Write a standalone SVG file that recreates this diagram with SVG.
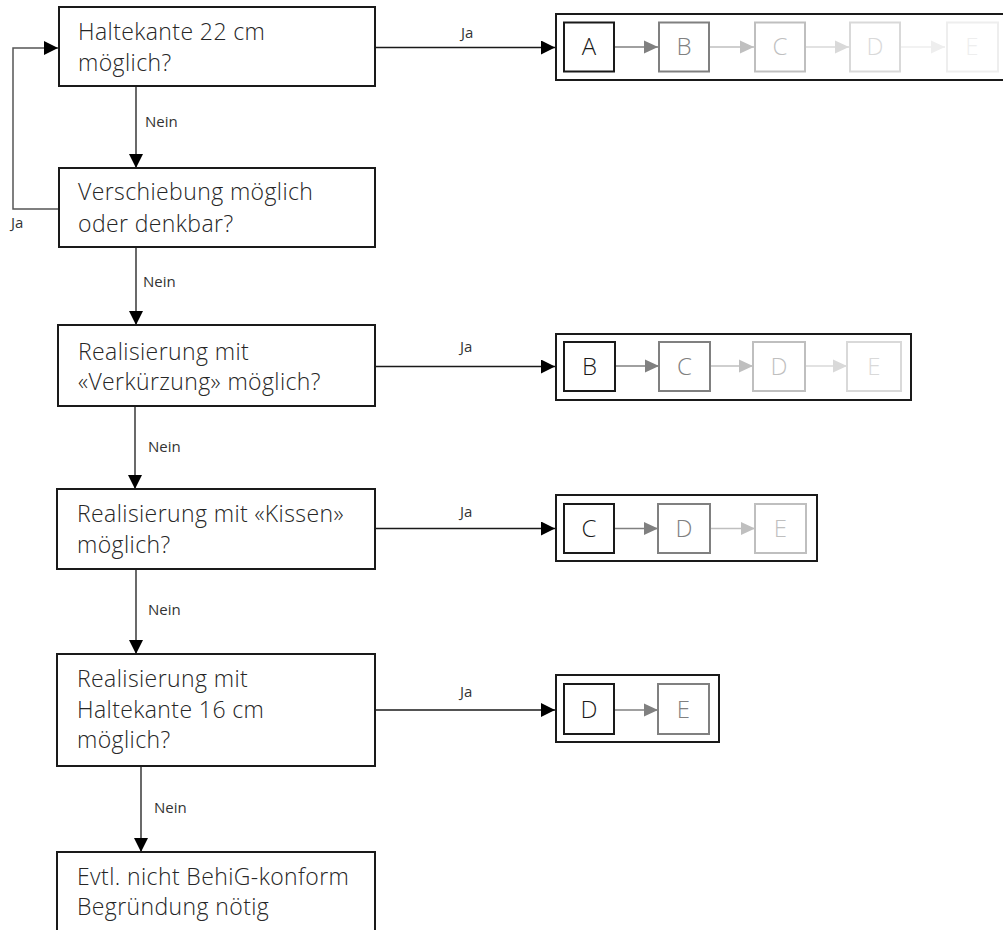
<svg xmlns="http://www.w3.org/2000/svg" width="1003" height="930" viewBox="0 0 1003 930">
<style>
.box{fill:#fff;stroke:#1a1a1a;stroke-width:2}
.txt{font-family:"Open Sans","Liberation Sans",sans-serif;font-weight:300;font-size:23px;letter-spacing:0.4px;fill:#262626}
.lbl{font-family:"Open Sans","Liberation Sans",sans-serif;font-weight:400;font-size:15px;fill:#333}
.ln{fill:none;stroke:#1a1a1a;stroke-width:1.3}
.fb{fill:none;stroke:#555;stroke-width:1.5}
.sb{fill:#fff;stroke-width:2}
.let{font-family:"Open Sans","Liberation Sans",sans-serif;font-weight:300;font-size:24px;text-anchor:middle}
.k0{stroke:#1a1a1a}.k1{stroke:#808080}.k2{stroke:#bfbfbf}.k3{stroke:#d9d9d9}.k4{stroke:#eeeeee}
.f0{fill:#1a1a1a}.f1{fill:#808080}.f2{fill:#bfbfbf}.f3{fill:#d9d9d9}.f4{fill:#eeeeee}
</style>
<defs>
<marker id="ah" markerUnits="userSpaceOnUse" markerWidth="15" markerHeight="14" refX="14" refY="7" orient="auto"><path d="M0,0 L14,7 L0,14 Z" fill="#000"/></marker>
<marker id="a1" markerUnits="userSpaceOnUse" markerWidth="15" markerHeight="14" refX="14" refY="7" orient="auto"><path d="M0,0.5 L14,7 L0,13.5 Z" fill="#808080"/></marker>
<marker id="a2" markerUnits="userSpaceOnUse" markerWidth="15" markerHeight="14" refX="14" refY="7" orient="auto"><path d="M0,0.5 L14,7 L0,13.5 Z" fill="#bfbfbf"/></marker>
<marker id="a3" markerUnits="userSpaceOnUse" markerWidth="15" markerHeight="14" refX="14" refY="7" orient="auto"><path d="M0,0.5 L14,7 L0,13.5 Z" fill="#d9d9d9"/></marker>
<marker id="a4" markerUnits="userSpaceOnUse" markerWidth="15" markerHeight="14" refX="14" refY="7" orient="auto"><path d="M0,0.5 L14,7 L0,13.5 Z" fill="#eeeeee"/></marker>
</defs>
<rect width="1003" height="930" fill="#fff"/>

<g id="connectors">
<path class="ln" d="M136,86 V168" marker-end="url(#ah)"/>
<path class="ln" d="M136,247 V325" marker-end="url(#ah)"/>
<path class="ln" d="M135,406 V489" marker-end="url(#ah)"/>
<path class="ln" d="M136,569 V654" marker-end="url(#ah)"/>
<path class="ln" d="M141,766 V852" marker-end="url(#ah)"/>
<path class="fb" d="M59,209 H13 V48 H58" marker-end="url(#ah)"/>
<path class="ln" d="M375,47.5 H555" marker-end="url(#ah)"/>
<path class="ln" d="M375,366.5 H555" marker-end="url(#ah)"/>
<path class="ln" d="M375,528.5 H555" marker-end="url(#ah)"/>
<path class="ln" d="M375,710 H555" marker-end="url(#ah)"/>
<text class="lbl" x="145" y="127">Nein</text>
<text class="lbl" x="143" y="287">Nein</text>
<text class="lbl" x="148" y="452">Nein</text>
<text class="lbl" x="148" y="615">Nein</text>
<text class="lbl" x="154" y="813">Nein</text>
<text class="lbl" x="11" y="228">Ja</text>
<text class="lbl" x="461" y="38">Ja</text>
<text class="lbl" x="460" y="352">Ja</text>
<text class="lbl" x="460" y="517">Ja</text>
<text class="lbl" x="460" y="697">Ja</text>
</g>

<g id="q1"><rect class="box" x="59" y="7" width="316" height="79"/><text class="txt" x="78" y="40">Haltekante 22 cm</text><text class="txt" x="78" y="71">möglich?</text></g>
<g id="q2"><rect class="box" x="59" y="168" width="316" height="79"/><text class="txt" x="78" y="200">Verschiebung möglich</text><text class="txt" x="78" y="232">oder denkbar?</text></g>
<g id="q3"><rect class="box" x="58" y="325" width="317" height="81"/><text class="txt" x="78" y="360">Realisierung mit</text><text class="txt" x="78" y="390">«Verkürzung» möglich?</text></g>
<g id="q4"><rect class="box" x="57" y="489" width="318" height="80"/><text class="txt" x="77" y="522">Realisierung mit «Kissen»</text><text class="txt" x="77" y="553">möglich?</text></g>
<g id="q5"><rect class="box" x="57" y="654" width="318" height="112"/><text class="txt" x="77" y="687">Realisierung mit</text><text class="txt" x="77" y="718">Haltekante 16 cm</text><text class="txt" x="77" y="748">möglich?</text></g>
<g id="q6"><rect class="box" x="57" y="852" width="318" height="100"/><text class="txt" x="77" y="885">Evtl. nicht BehiG-konform</text><text class="txt" x="77" y="915">Begründung nötig</text></g>

<g id="seq1">
<rect class="box" x="556" y="14" width="452" height="66"/>
<path class="k1" stroke-width="1.3" d="M614,47 H658" marker-end="url(#a1)"/>
<path class="k2" stroke-width="1.3" d="M709,47 H754" marker-end="url(#a2)"/>
<path class="k3" stroke-width="1.3" d="M805,47 H849" marker-end="url(#a3)"/>
<path class="k4" stroke-width="1.3" d="M901,47 H945" marker-end="url(#a4)"/>
<rect class="sb k0" x="564" y="22.5" width="50" height="49"/><text class="let f0" x="589" y="55">A</text>
<rect class="sb k1" x="659" y="22.5" width="50" height="49"/><text class="let f1" x="684" y="55">B</text>
<rect class="sb k2" x="755" y="22.5" width="50" height="49"/><text class="let f2" x="780" y="55">C</text>
<rect class="sb k3" x="850" y="22.5" width="50" height="49"/><text class="let f3" x="875" y="55">D</text>
<rect class="sb k4" x="947" y="22.5" width="51" height="49"/><text class="let f4" x="972" y="55">E</text>
</g>

<g id="seq2">
<rect class="box" x="556" y="334" width="355" height="66"/>
<path class="k1" stroke-width="1.3" d="M615,366 H659" marker-end="url(#a1)"/>
<path class="k2" stroke-width="1.3" d="M710,366 H753" marker-end="url(#a2)"/>
<path class="k3" stroke-width="1.3" d="M805,366 H847" marker-end="url(#a3)"/>
<rect class="sb k0" x="564" y="342" width="51" height="49"/><text class="let f0" x="589.5" y="375">B</text>
<rect class="sb k1" x="659" y="342" width="51" height="49"/><text class="let f1" x="684.5" y="375">C</text>
<rect class="sb k2" x="753" y="342" width="52" height="49"/><text class="let f2" x="779" y="375">D</text>
<rect class="sb k3" x="847" y="342" width="54" height="49"/><text class="let f3" x="874" y="375">E</text>
</g>

<g id="seq3">
<rect class="box" x="556" y="495" width="261" height="66"/>
<path class="k1" stroke-width="1.3" d="M614,528.5 H658" marker-end="url(#a1)"/>
<path class="k2" stroke-width="1.3" d="M710,528.5 H755" marker-end="url(#a2)"/>
<rect class="sb k0" x="564" y="504" width="50" height="49"/><text class="let f0" x="589" y="537">C</text>
<rect class="sb k1" x="658" y="504" width="52" height="49"/><text class="let f1" x="684" y="537">D</text>
<rect class="sb k2" x="755" y="504" width="51" height="49"/><text class="let f2" x="780.5" y="537">E</text>
</g>

<g id="seq4">
<rect class="box" x="556" y="675" width="163" height="67"/>
<path class="k1" stroke-width="1.3" d="M614,710 H658" marker-end="url(#a1)"/>
<rect class="sb k0" x="564" y="684" width="50" height="50"/><text class="let f0" x="589" y="718">D</text>
<rect class="sb k1" x="658" y="684" width="51" height="50"/><text class="let f1" x="683.5" y="718">E</text>
</g>
</svg>
